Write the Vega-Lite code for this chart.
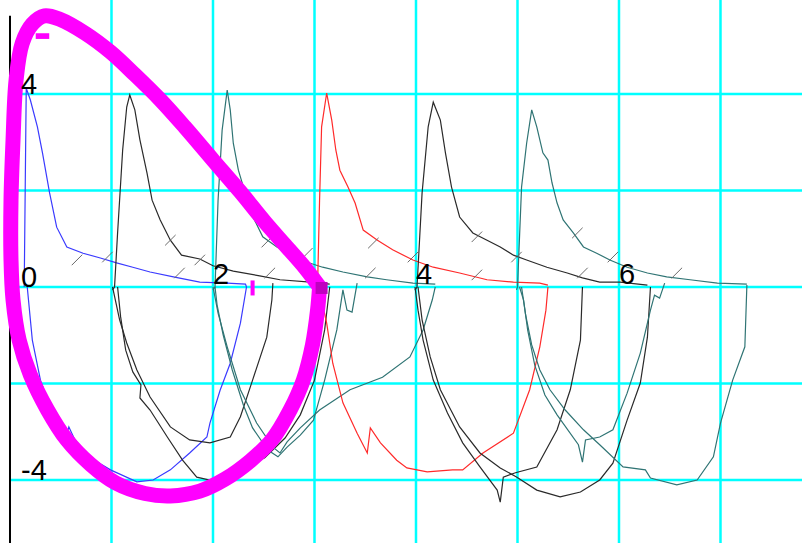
{
  "$schema": "https://vega.github.io/schema/vega-lite/v6.json",
  "width": 802,
  "height": 543,
  "autosize": {"type": "none"},
  "padding": 0,
  "background": "white",
  "config": {"view": {"stroke": null}},
  "resolve": {"scale": {"color": "independent", "shape": "independent"}},
  "datasets": {
    "vgrid": [{"x": 1}, {"x": 2}, {"x": 3}, {"x": 4}, {"x": 5}, {"x": 6}, {"x": 7}],
    "hgrid": [{"y": -4, "x0": 0, "x1": 7.9}, {"y": -2, "x0": 0, "x1": 7.9}, {"y": 0, "x0": 0, "x1": 7.9}, {"y": 2, "x0": 0, "x1": 7.9}, {"y": 4, "x0": 0, "x1": 7.9}],
    "yaxis": [{"x": 0, "y0": 5.62, "y1": -5.306}],
    "curves": [
      {"t":"1","s":"1e","o":1,"x":0.14,"y":0},
      {"t":"1","s":"1e","o":2,"x":0.16,"y":4.12},
      {"t":"1","s":"1e","o":3,"x":0.20,"y":3.88},
      {"t":"1","s":"1e","o":4,"x":0.27,"y":3.32},
      {"t":"1","s":"1e","o":5,"x":0.32,"y":2.78},
      {"t":"1","s":"1e","o":6,"x":0.39,"y":1.95},
      {"t":"1","s":"1e","o":7,"x":0.46,"y":1.24},
      {"t":"1","s":"1e","o":8,"x":0.56,"y":0.83},
      {"t":"1","s":"1e","o":9,"x":0.72,"y":0.70},
      {"t":"1","s":"1e","o":10,"x":0.89,"y":0.60},
      {"t":"1","s":"1e","o":11,"x":1.05,"y":0.50},
      {"t":"1","s":"1e","o":12,"x":1.21,"y":0.41},
      {"t":"1","s":"1e","o":13,"x":1.38,"y":0.31},
      {"t":"1","s":"1e","o":14,"x":1.61,"y":0.21},
      {"t":"1","s":"1e","o":15,"x":1.87,"y":0.10},
      {"t":"1","s":"1e","o":16,"x":2.14,"y":0.08},
      {"t":"1","s":"1e","o":17,"x":2.32,"y":0.06},
      {"t":"1","s":"1e","o":18,"x":2.33,"y":0},
      {"t":"1","s":"1i","o":1,"x":0.17,"y":0},
      {"t":"1","s":"1i","o":2,"x":0.22,"y":-1.10},
      {"t":"1","s":"1i","o":3,"x":0.30,"y":-1.93},
      {"t":"1","s":"1i","o":4,"x":0.44,"y":-2.76},
      {"t":"1","s":"1i","o":5,"x":0.55,"y":-3.13},
      {"t":"1","s":"1i","o":6,"x":0.58,"y":-2.90},
      {"t":"1","s":"1i","o":7,"x":0.64,"y":-3.17},
      {"t":"1","s":"1i","o":8,"x":0.79,"y":-3.54},
      {"t":"1","s":"1i","o":9,"x":0.99,"y":-3.79},
      {"t":"1","s":"1i","o":10,"x":1.25,"y":-4.04},
      {"t":"1","s":"1i","o":11,"x":1.41,"y":-4.00},
      {"t":"1","s":"1i","o":12,"x":1.58,"y":-3.79},
      {"t":"1","s":"1i","o":13,"x":1.77,"y":-3.44},
      {"t":"1","s":"1i","o":14,"x":1.94,"y":-3.11},
      {"t":"1","s":"1i","o":15,"x":1.97,"y":-2.82},
      {"t":"1","s":"1i","o":16,"x":2.07,"y":-2.14},
      {"t":"1","s":"1i","o":17,"x":2.17,"y":-1.58},
      {"t":"1","s":"1i","o":18,"x":2.27,"y":-0.75},
      {"t":"1","s":"1i","o":19,"x":2.33,"y":0},
      {"t":"2","s":"2e","o":1,"x":1.01,"y":-0.06},
      {"t":"2","s":"2e","o":2,"x":1.03,"y":0},
      {"t":"2","s":"2e","o":3,"x":1.06,"y":1.12},
      {"t":"2","s":"2e","o":4,"x":1.11,"y":2.84},
      {"t":"2","s":"2e","o":5,"x":1.15,"y":3.73},
      {"t":"2","s":"2e","o":6,"x":1.18,"y":3.98},
      {"t":"2","s":"2e","o":7,"x":1.23,"y":3.67},
      {"t":"2","s":"2e","o":8,"x":1.28,"y":3.05},
      {"t":"2","s":"2e","o":9,"x":1.35,"y":2.36},
      {"t":"2","s":"2e","o":10,"x":1.40,"y":1.80},
      {"t":"2","s":"2e","o":11,"x":1.48,"y":1.39},
      {"t":"2","s":"2e","o":12,"x":1.58,"y":0.97},
      {"t":"2","s":"2e","o":13,"x":1.69,"y":0.66},
      {"t":"2","s":"2e","o":14,"x":1.87,"y":0.58},
      {"t":"2","s":"2e","o":15,"x":2.00,"y":0.44},
      {"t":"2","s":"2e","o":16,"x":2.20,"y":0.33},
      {"t":"2","s":"2e","o":17,"x":2.46,"y":0.23},
      {"t":"2","s":"2e","o":18,"x":2.66,"y":0.15},
      {"t":"2","s":"2e","o":19,"x":2.96,"y":0.10},
      {"t":"2","s":"2e","o":20,"x":3.15,"y":0.06},
      {"t":"2","s":"2a","o":1,"x":2.59,"y":0.08},
      {"t":"2","s":"2a","o":2,"x":2.58,"y":-0.27},
      {"t":"2","s":"2a","o":3,"x":2.53,"y":-1.04},
      {"t":"2","s":"2a","o":4,"x":2.39,"y":-1.93},
      {"t":"2","s":"2a","o":5,"x":2.27,"y":-2.69},
      {"t":"2","s":"2a","o":6,"x":2.17,"y":-3.11},
      {"t":"2","s":"2a","o":7,"x":1.97,"y":-3.23},
      {"t":"2","s":"2a","o":8,"x":1.77,"y":-3.17},
      {"t":"2","s":"2a","o":9,"x":1.58,"y":-2.90},
      {"t":"2","s":"2a","o":10,"x":1.38,"y":-2.28},
      {"t":"2","s":"2a","o":11,"x":1.25,"y":-1.72},
      {"t":"2","s":"2a","o":12,"x":1.15,"y":-1.16},
      {"t":"2","s":"2a","o":13,"x":1.08,"y":-0.68},
      {"t":"2","s":"2a","o":14,"x":1.01,"y":0},
      {"t":"2","s":"2b","o":1,"x":3.15,"y":0},
      {"t":"2","s":"2b","o":2,"x":3.10,"y":-0.89},
      {"t":"2","s":"2b","o":3,"x":3.00,"y":-1.93},
      {"t":"2","s":"2b","o":4,"x":2.86,"y":-2.65},
      {"t":"2","s":"2b","o":5,"x":2.71,"y":-3.13},
      {"t":"2","s":"2b","o":6,"x":2.51,"y":-3.54},
      {"t":"2","s":"2b","o":7,"x":2.27,"y":-3.79},
      {"t":"2","s":"2b","o":8,"x":2.05,"y":-3.96},
      {"t":"2","s":"2b","o":9,"x":2.00,"y":-4.02},
      {"t":"2","s":"2b","o":10,"x":1.84,"y":-3.94},
      {"t":"2","s":"2b","o":11,"x":1.70,"y":-3.59},
      {"t":"2","s":"2b","o":12,"x":1.55,"y":-3.11},
      {"t":"2","s":"2b","o":13,"x":1.38,"y":-2.55},
      {"t":"2","s":"2b","o":14,"x":1.28,"y":-2.30},
      {"t":"2","s":"2b","o":15,"x":1.29,"y":-2.03},
      {"t":"2","s":"2b","o":16,"x":1.21,"y":-1.76},
      {"t":"2","s":"2b","o":17,"x":1.14,"y":-1.31},
      {"t":"2","s":"2b","o":18,"x":1.09,"y":-0.62},
      {"t":"2","s":"2b","o":19,"x":1.06,"y":0},
      {"t":"3","s":"3e","o":1,"x":2.00,"y":-0.06},
      {"t":"3","s":"3e","o":2,"x":2.02,"y":0},
      {"t":"3","s":"3e","o":3,"x":2.05,"y":1.80},
      {"t":"3","s":"3e","o":4,"x":2.09,"y":3.25},
      {"t":"3","s":"3e","o":5,"x":2.14,"y":4.08},
      {"t":"3","s":"3e","o":6,"x":2.17,"y":3.67},
      {"t":"3","s":"3e","o":7,"x":2.20,"y":2.98},
      {"t":"3","s":"3e","o":8,"x":2.25,"y":2.42},
      {"t":"3","s":"3e","o":9,"x":2.30,"y":2.07},
      {"t":"3","s":"3e","o":10,"x":2.36,"y":1.60},
      {"t":"3","s":"3e","o":11,"x":2.49,"y":1.04},
      {"t":"3","s":"3e","o":12,"x":2.63,"y":0.83},
      {"t":"3","s":"3e","o":13,"x":2.86,"y":0.56},
      {"t":"3","s":"3e","o":14,"x":3.08,"y":0.41},
      {"t":"3","s":"3e","o":15,"x":3.28,"y":0.31},
      {"t":"3","s":"3e","o":16,"x":3.52,"y":0.21},
      {"t":"3","s":"3e","o":17,"x":3.71,"y":0.15},
      {"t":"3","s":"3e","o":18,"x":3.97,"y":0.08},
      {"t":"3","s":"3e","o":19,"x":4.19,"y":0.06},
      {"t":"3","s":"3a","o":1,"x":4.19,"y":0},
      {"t":"3","s":"3a","o":2,"x":4.16,"y":-0.27},
      {"t":"3","s":"3a","o":3,"x":4.07,"y":-0.89},
      {"t":"3","s":"3a","o":4,"x":3.94,"y":-1.45},
      {"t":"3","s":"3a","o":5,"x":3.67,"y":-1.87},
      {"t":"3","s":"3a","o":6,"x":3.35,"y":-2.13},
      {"t":"3","s":"3a","o":7,"x":3.05,"y":-2.55},
      {"t":"3","s":"3a","o":8,"x":2.86,"y":-2.92},
      {"t":"3","s":"3a","o":9,"x":2.73,"y":-3.21},
      {"t":"3","s":"3a","o":10,"x":2.66,"y":-3.44},
      {"t":"3","s":"3a","o":11,"x":2.59,"y":-3.32},
      {"t":"3","s":"3a","o":12,"x":2.43,"y":-2.82},
      {"t":"3","s":"3a","o":13,"x":2.27,"y":-2.13},
      {"t":"3","s":"3a","o":14,"x":2.14,"y":-1.24},
      {"t":"3","s":"3a","o":15,"x":2.05,"y":-0.54},
      {"t":"3","s":"3a","o":16,"x":2.00,"y":0},
      {"t":"3","s":"3b","o":1,"x":3.42,"y":0.08},
      {"t":"3","s":"3b","o":2,"x":3.37,"y":-0.52},
      {"t":"3","s":"3b","o":3,"x":3.32,"y":-0.48},
      {"t":"3","s":"3b","o":4,"x":3.28,"y":-0.06},
      {"t":"3","s":"3b","o":5,"x":3.22,"y":-0.89},
      {"t":"3","s":"3b","o":6,"x":3.10,"y":-1.93},
      {"t":"3","s":"3b","o":7,"x":2.99,"y":-2.76},
      {"t":"3","s":"3b","o":8,"x":2.86,"y":-3.07},
      {"t":"3","s":"3b","o":9,"x":2.73,"y":-3.32},
      {"t":"3","s":"3b","o":10,"x":2.64,"y":-3.52},
      {"t":"3","s":"3b","o":11,"x":2.54,"y":-3.38},
      {"t":"3","s":"3b","o":12,"x":2.39,"y":-2.92},
      {"t":"3","s":"3b","o":13,"x":2.30,"y":-2.45},
      {"t":"3","s":"3b","o":14,"x":2.19,"y":-1.72},
      {"t":"3","s":"3b","o":15,"x":2.10,"y":-0.99},
      {"t":"3","s":"3b","o":16,"x":2.04,"y":-0.37},
      {"t":"3","s":"3b","o":17,"x":2.02,"y":0},
      {"t":"4","s":"4e","o":1,"x":3.02,"y":-0.06},
      {"t":"4","s":"4e","o":2,"x":3.03,"y":0},
      {"t":"4","s":"4e","o":3,"x":3.05,"y":1.80},
      {"t":"4","s":"4e","o":4,"x":3.07,"y":3.32},
      {"t":"4","s":"4e","o":5,"x":3.12,"y":4.02},
      {"t":"4","s":"4e","o":6,"x":3.17,"y":3.46},
      {"t":"4","s":"4e","o":7,"x":3.21,"y":2.84},
      {"t":"4","s":"4e","o":8,"x":3.25,"y":2.42},
      {"t":"4","s":"4e","o":9,"x":3.33,"y":2.07},
      {"t":"4","s":"4e","o":10,"x":3.40,"y":1.74},
      {"t":"4","s":"4e","o":11,"x":3.48,"y":1.18},
      {"t":"4","s":"4e","o":12,"x":3.62,"y":0.97},
      {"t":"4","s":"4e","o":13,"x":3.77,"y":0.77},
      {"t":"4","s":"4e","o":14,"x":3.97,"y":0.56},
      {"t":"4","s":"4e","o":15,"x":4.17,"y":0.41},
      {"t":"4","s":"4e","o":16,"x":4.43,"y":0.29},
      {"t":"4","s":"4e","o":17,"x":4.70,"y":0.15},
      {"t":"4","s":"4e","o":18,"x":4.96,"y":0.10},
      {"t":"4","s":"4e","o":19,"x":5.22,"y":0.08},
      {"t":"4","s":"4e","o":20,"x":5.30,"y":0.04},
      {"t":"4","s":"4i","o":1,"x":5.30,"y":0},
      {"t":"4","s":"4i","o":2,"x":5.28,"y":-0.48},
      {"t":"4","s":"4i","o":3,"x":5.22,"y":-1.24},
      {"t":"4","s":"4i","o":4,"x":5.12,"y":-2.13},
      {"t":"4","s":"4i","o":5,"x":4.96,"y":-3.03},
      {"t":"4","s":"4i","o":6,"x":4.66,"y":-3.44},
      {"t":"4","s":"4i","o":7,"x":4.46,"y":-3.79},
      {"t":"4","s":"4i","o":8,"x":4.36,"y":-3.79},
      {"t":"4","s":"4i","o":9,"x":4.11,"y":-3.83},
      {"t":"4","s":"4i","o":10,"x":3.91,"y":-3.75},
      {"t":"4","s":"4i","o":11,"x":3.81,"y":-3.59},
      {"t":"4","s":"4i","o":12,"x":3.65,"y":-3.23},
      {"t":"4","s":"4i","o":13,"x":3.55,"y":-2.92},
      {"t":"4","s":"4i","o":14,"x":3.52,"y":-3.44},
      {"t":"4","s":"4i","o":15,"x":3.42,"y":-3.03},
      {"t":"4","s":"4i","o":16,"x":3.28,"y":-2.40},
      {"t":"4","s":"4i","o":17,"x":3.18,"y":-1.58},
      {"t":"4","s":"4i","o":18,"x":3.12,"y":-0.75},
      {"t":"4","s":"4i","o":19,"x":3.05,"y":-0.06},
      {"t":"4","s":"4i","o":20,"x":3.03,"y":0},
      {"t":"5","s":"5e","o":1,"x":3.99,"y":-0.06},
      {"t":"5","s":"5e","o":2,"x":4.01,"y":0},
      {"t":"5","s":"5e","o":3,"x":4.06,"y":1.95},
      {"t":"5","s":"5e","o":4,"x":4.12,"y":3.32},
      {"t":"5","s":"5e","o":5,"x":4.17,"y":3.83},
      {"t":"5","s":"5e","o":6,"x":4.24,"y":3.46},
      {"t":"5","s":"5e","o":7,"x":4.29,"y":2.78},
      {"t":"5","s":"5e","o":8,"x":4.35,"y":2.07},
      {"t":"5","s":"5e","o":9,"x":4.43,"y":1.45},
      {"t":"5","s":"5e","o":10,"x":4.56,"y":1.12},
      {"t":"5","s":"5e","o":11,"x":4.70,"y":0.97},
      {"t":"5","s":"5e","o":12,"x":4.83,"y":0.83},
      {"t":"5","s":"5e","o":13,"x":4.96,"y":0.66},
      {"t":"5","s":"5e","o":14,"x":5.09,"y":0.56},
      {"t":"5","s":"5e","o":15,"x":5.29,"y":0.41},
      {"t":"5","s":"5e","o":16,"x":5.49,"y":0.29},
      {"t":"5","s":"5e","o":17,"x":5.64,"y":0.19},
      {"t":"5","s":"5e","o":18,"x":5.81,"y":0.10},
      {"t":"5","s":"5e","o":19,"x":6.01,"y":0.10},
      {"t":"5","s":"5e","o":20,"x":6.28,"y":0.04},
      {"t":"5","s":"5a","o":1,"x":5.64,"y":0},
      {"t":"5","s":"5a","o":2,"x":5.62,"y":-1.10},
      {"t":"5","s":"5a","o":3,"x":5.52,"y":-2.13},
      {"t":"5","s":"5a","o":4,"x":5.39,"y":-2.96},
      {"t":"5","s":"5a","o":5,"x":5.19,"y":-3.73},
      {"t":"5","s":"5a","o":6,"x":4.98,"y":-3.85},
      {"t":"5","s":"5a","o":7,"x":4.86,"y":-3.94},
      {"t":"5","s":"5a","o":8,"x":4.83,"y":-4.46},
      {"t":"5","s":"5a","o":9,"x":4.80,"y":-4.21},
      {"t":"5","s":"5a","o":10,"x":4.63,"y":-3.73},
      {"t":"5","s":"5a","o":11,"x":4.46,"y":-3.23},
      {"t":"5","s":"5a","o":12,"x":4.31,"y":-2.61},
      {"t":"5","s":"5a","o":13,"x":4.17,"y":-1.93},
      {"t":"5","s":"5a","o":14,"x":4.07,"y":-1.10},
      {"t":"5","s":"5a","o":15,"x":4.02,"y":-0.48},
      {"t":"5","s":"5a","o":16,"x":3.99,"y":0},
      {"t":"5","s":"5b","o":1,"x":6.31,"y":0},
      {"t":"5","s":"5b","o":2,"x":6.28,"y":-1.04},
      {"t":"5","s":"5b","o":3,"x":6.21,"y":-1.99},
      {"t":"5","s":"5b","o":4,"x":6.08,"y":-2.76},
      {"t":"5","s":"5b","o":5,"x":5.94,"y":-3.65},
      {"t":"5","s":"5b","o":6,"x":5.81,"y":-4.00},
      {"t":"5","s":"5b","o":7,"x":5.62,"y":-4.25},
      {"t":"5","s":"5b","o":8,"x":5.42,"y":-4.35},
      {"t":"5","s":"5b","o":9,"x":5.19,"y":-4.21},
      {"t":"5","s":"5b","o":10,"x":4.99,"y":-3.94},
      {"t":"5","s":"5b","o":11,"x":4.83,"y":-3.75},
      {"t":"5","s":"5b","o":12,"x":4.63,"y":-3.44},
      {"t":"5","s":"5b","o":13,"x":4.43,"y":-2.90},
      {"t":"5","s":"5b","o":14,"x":4.24,"y":-2.13},
      {"t":"5","s":"5b","o":15,"x":4.14,"y":-1.45},
      {"t":"5","s":"5b","o":16,"x":4.06,"y":-0.68},
      {"t":"5","s":"5b","o":17,"x":4.02,"y":0},
      {"t":"6","s":"6e","o":1,"x":4.99,"y":-0.06},
      {"t":"6","s":"6e","o":2,"x":5.00,"y":0},
      {"t":"6","s":"6e","o":3,"x":5.04,"y":2.07},
      {"t":"6","s":"6e","o":4,"x":5.09,"y":2.98},
      {"t":"6","s":"6e","o":5,"x":5.14,"y":3.67},
      {"t":"6","s":"6e","o":6,"x":5.19,"y":3.32},
      {"t":"6","s":"6e","o":7,"x":5.25,"y":2.78},
      {"t":"6","s":"6e","o":8,"x":5.30,"y":2.63},
      {"t":"6","s":"6e","o":9,"x":5.34,"y":2.16},
      {"t":"6","s":"6e","o":10,"x":5.39,"y":1.74},
      {"t":"6","s":"6e","o":11,"x":5.45,"y":1.39},
      {"t":"6","s":"6e","o":12,"x":5.55,"y":1.12},
      {"t":"6","s":"6e","o":13,"x":5.65,"y":0.83},
      {"t":"6","s":"6e","o":14,"x":5.78,"y":0.70},
      {"t":"6","s":"6e","o":15,"x":5.91,"y":0.56},
      {"t":"6","s":"6e","o":16,"x":6.08,"y":0.41},
      {"t":"6","s":"6e","o":17,"x":6.28,"y":0.29},
      {"t":"6","s":"6e","o":18,"x":6.47,"y":0.21},
      {"t":"6","s":"6e","o":19,"x":6.70,"y":0.15},
      {"t":"6","s":"6e","o":20,"x":6.97,"y":0.08},
      {"t":"6","s":"6e","o":21,"x":7.26,"y":0.06},
      {"t":"6","s":"6a","o":1,"x":7.26,"y":0.04},
      {"t":"6","s":"6a","o":2,"x":7.24,"y":-1.24},
      {"t":"6","s":"6a","o":3,"x":7.12,"y":-1.93},
      {"t":"6","s":"6a","o":4,"x":7.00,"y":-2.82},
      {"t":"6","s":"6a","o":5,"x":6.93,"y":-3.52},
      {"t":"6","s":"6a","o":6,"x":6.77,"y":-4.00},
      {"t":"6","s":"6a","o":7,"x":6.57,"y":-4.10},
      {"t":"6","s":"6a","o":8,"x":6.31,"y":-3.96},
      {"t":"6","s":"6a","o":9,"x":6.26,"y":-3.79},
      {"t":"6","s":"6a","o":10,"x":6.04,"y":-3.73},
      {"t":"6","s":"6a","o":11,"x":5.81,"y":-3.27},
      {"t":"6","s":"6a","o":12,"x":5.65,"y":-2.96},
      {"t":"6","s":"6a","o":13,"x":5.47,"y":-2.55},
      {"t":"6","s":"6a","o":14,"x":5.32,"y":-2.13},
      {"t":"6","s":"6a","o":15,"x":5.22,"y":-1.72},
      {"t":"6","s":"6a","o":16,"x":5.14,"y":-1.20},
      {"t":"6","s":"6a","o":17,"x":5.08,"y":-0.58},
      {"t":"6","s":"6a","o":18,"x":5.04,"y":0},
      {"t":"6","s":"6b","o":1,"x":6.45,"y":0.08},
      {"t":"6","s":"6b","o":2,"x":6.40,"y":-0.23},
      {"t":"6","s":"6b","o":3,"x":6.35,"y":-0.17},
      {"t":"6","s":"6b","o":4,"x":6.31,"y":-0.48},
      {"t":"6","s":"6b","o":5,"x":6.21,"y":-1.37},
      {"t":"6","s":"6b","o":6,"x":6.08,"y":-2.20},
      {"t":"6","s":"6b","o":7,"x":5.94,"y":-2.96},
      {"t":"6","s":"6b","o":8,"x":5.81,"y":-3.11},
      {"t":"6","s":"6b","o":9,"x":5.67,"y":-3.17},
      {"t":"6","s":"6b","o":10,"x":5.64,"y":-3.63},
      {"t":"6","s":"6b","o":11,"x":5.60,"y":-3.27},
      {"t":"6","s":"6b","o":12,"x":5.39,"y":-2.65},
      {"t":"6","s":"6b","o":13,"x":5.27,"y":-2.24},
      {"t":"6","s":"6b","o":14,"x":5.17,"y":-1.62},
      {"t":"6","s":"6b","o":15,"x":5.10,"y":-0.89},
      {"t":"6","s":"6b","o":16,"x":5.06,"y":-0.27},
      {"t":"6","s":"6b","o":17,"x":5.02,"y":0}
    ],
    "slashes": [
      {"x":0.66,"y":0.56},{"x":0.96,"y":0.62},{"x":1.58,"y":0.97},{"x":1.67,"y":0.29},
      {"x":1.87,"y":0.56},{"x":2.53,"y":0.93},{"x":2.56,"y":0.29},{"x":2.93,"y":0.70},
      {"x":3.58,"y":0.91},{"x":3.55,"y":0.29},{"x":3.97,"y":0.62},{"x":4.60,"y":1.04},
      {"x":4.60,"y":0.25},{"x":4.99,"y":0.62},{"x":5.59,"y":1.12},{"x":5.64,"y":0.29},
      {"x":5.94,"y":0.62},{"x":6.57,"y":0.29}
    ],
    "magenta": [
      {"o":1,"x":3.05,"y":0},{"o":2,"x":2.91,"y":0.39},{"o":3,"x":2.71,"y":0.87},
      {"o":4,"x":2.51,"y":1.35},{"o":5,"x":2.27,"y":1.97},{"o":6,"x":2.00,"y":2.63},
      {"o":7,"x":1.72,"y":3.32},{"o":8,"x":1.48,"y":3.88},{"o":9,"x":1.23,"y":4.40},
      {"o":10,"x":0.99,"y":4.87},{"o":11,"x":0.74,"y":5.26},{"o":12,"x":0.49,"y":5.55},
      {"o":13,"x":0.34,"y":5.62},{"o":14,"x":0.22,"y":5.45},{"o":15,"x":0.12,"y":5.05},
      {"o":16,"x":0.06,"y":4.29},{"o":17,"x":0.03,"y":3.05},{"o":18,"x":0.01,"y":1.80},
      {"o":19,"x":0.01,"y":0.56},{"o":20,"x":0.03,"y":-0.27},{"o":21,"x":0.09,"y":-1.10},
      {"o":22,"x":0.20,"y":-1.82},{"o":23,"x":0.37,"y":-2.55},{"o":24,"x":0.56,"y":-3.17},
      {"o":25,"x":0.80,"y":-3.69},{"o":26,"x":1.04,"y":-4.06},{"o":27,"x":1.33,"y":-4.28},
      {"o":28,"x":1.58,"y":-4.33},{"o":29,"x":1.87,"y":-4.23},{"o":30,"x":2.12,"y":-3.98},
      {"o":31,"x":2.37,"y":-3.60},{"o":32,"x":2.58,"y":-3.17},{"o":33,"x":2.76,"y":-2.55},
      {"o":34,"x":2.89,"y":-1.93},{"o":35,"x":2.98,"y":-1.20},{"o":36,"x":3.03,"y":-0.48},
      {"o":37,"x":3.05,"y":0}
    ],
    "marks": [
      {"k":"dash","x":0.32,"y":5.20},
      {"k":"tick","x":2.39,"y":-0.02},
      {"k":"square","x":3.07,"y":-0.02}
    ],
    "ylabels": [
      {"x":0,"y":4,"l":"4"},{"x":0,"y":0,"l":"0"},{"x":0,"y":-4,"l":"-4"}
    ],
    "xlabels": [
      {"x":2,"y":0,"l":"2"},{"x":4,"y":0,"l":"4"},{"x":6,"y":0,"l":"6"}
    ]
  },
  "layer": [
    {
      "data": {"name": "vgrid"},
      "mark": {"type": "rule", "color": "#00ffff", "strokeWidth": 2.5},
      "encoding": {
        "x": {"field": "x", "type": "quantitative", "scale": {"domain": [-0.0985, 7.803], "nice": false, "zero": false}, "axis": null}
      }
    },
    {
      "data": {"name": "hgrid"},
      "mark": {"type": "rule", "color": "#00ffff", "strokeWidth": 2.5},
      "encoding": {
        "y": {"field": "y", "type": "quantitative", "scale": {"domain": [-5.306, 5.948], "nice": false, "zero": false}, "axis": null},
        "x": {"field": "x0", "type": "quantitative"},
        "x2": {"field": "x1"}
      }
    },
    {
      "data": {"name": "yaxis"},
      "mark": {"type": "rule", "color": "#000000", "strokeWidth": 2},
      "encoding": {
        "x": {"field": "x", "type": "quantitative"},
        "y": {"field": "y0", "type": "quantitative"},
        "y2": {"field": "y1"}
      }
    },
    {
      "data": {"name": "curves"},
      "mark": {"type": "line", "strokeWidth": 1.2},
      "encoding": {
        "x": {"field": "x", "type": "quantitative"},
        "y": {"field": "y", "type": "quantitative"},
        "detail": {"field": "s", "type": "nominal"},
        "order": {"field": "o", "type": "quantitative"},
        "color": {"field": "t", "type": "nominal", "legend": null,
          "scale": {"domain": ["1", "2", "3", "4", "5", "6"], "range": ["#3a3aff", "#2a2a2a", "#2f7474", "#ff2a2a", "#2a2a2a", "#2f7474"]}}
      }
    },
    {
      "data": {"name": "slashes"},
      "mark": {"type": "point", "shape": "M-1,1L1,-1", "filled": false, "size": 110, "color": "#6a6a6a", "strokeWidth": 1, "opacity": 1},
      "encoding": {
        "x": {"field": "x", "type": "quantitative"},
        "y": {"field": "y", "type": "quantitative"}
      }
    },
    {
      "data": {"name": "magenta"},
      "mark": {"type": "line", "color": "#ff00ff", "strokeWidth": 15, "interpolate": "catmull-rom", "strokeCap": "round"},
      "encoding": {
        "x": {"field": "x", "type": "quantitative"},
        "y": {"field": "y", "type": "quantitative"},
        "order": {"field": "o", "type": "quantitative"}
      }
    },
    {
      "data": {"name": "marks"},
      "mark": {"type": "point", "filled": true, "size": 225, "opacity": 1, "strokeWidth": 0},
      "encoding": {
        "x": {"field": "x", "type": "quantitative"},
        "y": {"field": "y", "type": "quantitative"},
        "shape": {"field": "k", "type": "nominal", "legend": null,
          "scale": {"domain": ["dash", "tick", "square"], "range": ["M-0.9,-0.38H0.9V0.38H-0.9Z", "M-0.27,-1H0.27V1H-0.27Z", "M-0.8,-0.8H0.8V0.8H-0.8Z"]}},
        "color": {"field": "k", "type": "nominal", "legend": null,
          "scale": {"domain": ["dash", "tick", "square"], "range": ["#ff00ff", "#ff00ff", "#c000c0"]}}
      }
    },
    {
      "data": {"name": "ylabels"},
      "mark": {"type": "text", "align": "left", "baseline": "alphabetic", "dx": 11, "fontSize": 29, "font": "Liberation Sans Narrow, Liberation Sans, Arial, sans-serif", "color": "#000000"},
      "encoding": {
        "x": {"field": "x", "type": "quantitative"},
        "y": {"field": "y", "type": "quantitative"},
        "text": {"field": "l", "type": "nominal"}
      }
    },
    {
      "data": {"name": "xlabels"},
      "mark": {"type": "text", "align": "left", "baseline": "alphabetic", "dx": 0, "dy": -3, "fontSize": 29, "font": "Liberation Sans Narrow, Liberation Sans, Arial, sans-serif", "color": "#000000"},
      "encoding": {
        "x": {"field": "x", "type": "quantitative"},
        "y": {"field": "y", "type": "quantitative"},
        "text": {"field": "l", "type": "nominal"}
      }
    }
  ]
}
